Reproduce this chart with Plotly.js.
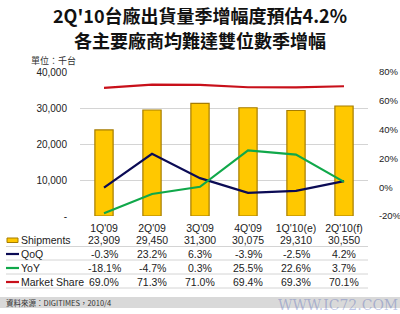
<!DOCTYPE html>
<html>
<head>
<meta charset="utf-8">
<script src="https://cdn.plot.ly/plotly-3.0.1.min.js"></script>
<style>html,body{margin:0;padding:0;background:#fff;}#chart{width:400px;height:314px;}</style>
</head>
<body>
<div id="chart"></div>
<script>
const categories = ["1Q'09", "2Q'09", "3Q'09", "4Q'09", "1Q'10(e)", "2Q'10(f)"];
const shipments = [23909, 29450, 31300, 30075, 29310, 30550];
const qoq = [-0.3, 23.2, 6.3, -3.9, -2.5, 4.2];
const yoy = [-18.1, -4.7, 0.3, 25.5, 22.6, 3.7];
const marketShare = [69.0, 71.3, 71.0, 69.4, 69.3, 70.1];
const rowNames = ["Shipments", "QoQ", "YoY", "Market Share"];
const leftTicks = [0, 10000, 20000, 30000, 40000];
const leftTickText = ["-", "10,000", "20,000", "30,000", "40,000"];
const rightTicks = [-20, 0, 20, 40, 60, 80];
const rightTickText = ["-20%", "0%", "20%", "40%", "60%", "80%"];
const titleLines = ["2Q'10台廠出貨量季增幅度預估4.2%", "各主要廠商均難達雙位數季增幅"];
const unitText = "單位：千台";
const sourceText = "資料來源：DIGITIMES，2010/4";

const FONT = "Liberation Sans, Arial, sans-serif";
const CJK = "Noto Sans CJK TC, sans-serif";
const L = 80, R = 32, T = 72, B = 98, W = 400, H = 314;
const PW = W - L - R, PH = H - T - B;
const px2x = p => (p - L) / PW;
const py2y = p => (H - B - p) / PH;

const colors = {bar: '#FFC800', barLine: '#A67C00', qoq: '#0B0B55', yoy: '#10A84A', ms: '#C8101A'};

const traces = [
  {type: 'bar', x: categories, y: shipments, name: 'Shipments', width: 0.38,
   marker: {color: colors.bar, line: {color: colors.barLine, width: 1.2}}, yaxis: 'y'},
  {type: 'scatter', mode: 'lines', x: categories, y: qoq, name: 'QoQ', yaxis: 'y2', line: {color: colors.qoq, width: 2.2}},
  {type: 'scatter', mode: 'lines', x: categories, y: yoy, name: 'YoY', yaxis: 'y2', line: {color: colors.yoy, width: 2.2}},
  {type: 'scatter', mode: 'lines', x: categories, y: marketShare, name: 'Market Share', yaxis: 'y2', line: {color: colors.ms, width: 2.2}}
];

const fmtInt = v => v.toLocaleString('en-US');
const fmtPct = v => v.toFixed(1) + '%';
const rows = [
  {vals: shipments.map(fmtInt), y: 240, icon: 'bar', color: colors.bar},
  {vals: qoq.map(fmtPct), y: 253.5, icon: 'line', color: colors.qoq},
  {vals: yoy.map(fmtPct), y: 267.5, icon: 'line', color: colors.yoy},
  {vals: marketShare.map(fmtPct), y: 281.5, icon: 'line', color: colors.ms}
];

const annotations = [];
const shapes = [];
titleLines.forEach((t, i) => {
  annotations.push({text: '<b>' + t + '</b>', xref: 'paper', yref: 'paper', x: px2x(200), y: py2y(i === 0 ? 15 : 40),
    xanchor: 'center', yanchor: 'middle', showarrow: false, font: {family: CJK, size: 18, color: '#111'}});
});
annotations.push({text: unitText, xref: 'paper', yref: 'paper', x: px2x(29), y: py2y(60), xanchor: 'left', yanchor: 'middle',
  showarrow: false, font: {family: CJK, size: 9, color: '#333'}});

rows.forEach((r, i) => {
  annotations.push({text: rowNames[i], xref: 'paper', yref: 'paper', x: px2x(19), y: py2y(r.y), xanchor: 'left', yanchor: 'middle',
    showarrow: false, font: {family: FONT, size: 10.5, color: '#222'}});
  r.vals.forEach((v, j) => {
    annotations.push({text: v, xref: 'x', yref: 'paper', x: categories[j], y: py2y(r.y), xanchor: 'center', yanchor: 'middle',
      showarrow: false, font: {family: FONT, size: 10.5, color: '#222'}});
  });
  if (r.icon === 'bar') {
    shapes.push({type: 'rect', xref: 'paper', yref: 'paper', x0: px2x(7), x1: px2x(18), y0: py2y(r.y - 2), y1: py2y(r.y + 2.5),
      fillcolor: colors.bar, line: {color: colors.barLine, width: 1}});
  } else {
    shapes.push({type: 'line', xref: 'paper', yref: 'paper', x0: px2x(6), x1: px2x(19), y0: py2y(r.y + 0.5), y1: py2y(r.y + 0.5),
      line: {color: r.color, width: 2.2}});
  }
  shapes.push({type: 'line', xref: 'paper', yref: 'paper', x0: px2x(6), x1: px2x(368), y0: py2y(r.y + 6.5), y1: py2y(r.y + 6.5),
    line: {color: '#d4d4d4', width: 1}, layer: 'below'});
});

shapes.push({type: 'rect', xref: 'paper', yref: 'paper', x0: px2x(0), x1: px2x(400), y0: py2y(297), y1: py2y(308),
  fillcolor: '#d9d9d9', line: {width: 0}, layer: 'below'});
annotations.push({text: sourceText, xref: 'paper', yref: 'paper', x: px2x(4), y: py2y(302.5), xanchor: 'left', yanchor: 'middle',
  showarrow: false, font: {family: CJK, size: 7.5, color: '#333'}});
annotations.push({text: 'WWW.IC72.COM', xref: 'paper', yref: 'paper', x: px2x(400), y: py2y(305), xanchor: 'right', yanchor: 'middle',
  showarrow: false, font: {family: 'DejaVu Serif, serif', size: 14, color: 'rgba(70,90,180,0.35)'}});

const layout = {
  width: W, height: H,
  margin: {l: L, r: R, t: T, b: B, pad: 0},
  paper_bgcolor: '#fff', plot_bgcolor: '#fff',
  showlegend: false,
  bargap: 0.6,
  xaxis: {type: 'category', showgrid: false, zeroline: false, showline: false, ticks: 'outside', ticklen: 2, tickcolor: 'rgba(0,0,0,0)',
    tickfont: {family: FONT, size: 10.5, color: '#222'}, fixedrange: true},
  yaxis: {range: [0, 40000], tickvals: leftTicks, ticktext: leftTickText, showgrid: true, gridcolor: '#d4d4d4', gridwidth: 1,
    zeroline: false, showline: false, ticks: 'outside', ticklen: 10, tickcolor: 'rgba(0,0,0,0)',
    tickfont: {family: FONT, size: 10, color: '#222'}},
  yaxis2: {range: [-20, 80], overlaying: 'y', side: 'right', tickvals: rightTicks, ticktext: rightTickText, showgrid: false,
    zeroline: false, showline: false, ticks: 'outside', ticklen: 8, tickcolor: 'rgba(0,0,0,0)',
    tickfont: {family: FONT, size: 9.5, color: '#222'}},
  annotations: annotations,
  shapes: shapes
};

Plotly.newPlot('chart', traces, layout, {displayModeBar: false, staticPlot: true});
</script>
</body>
</html>
